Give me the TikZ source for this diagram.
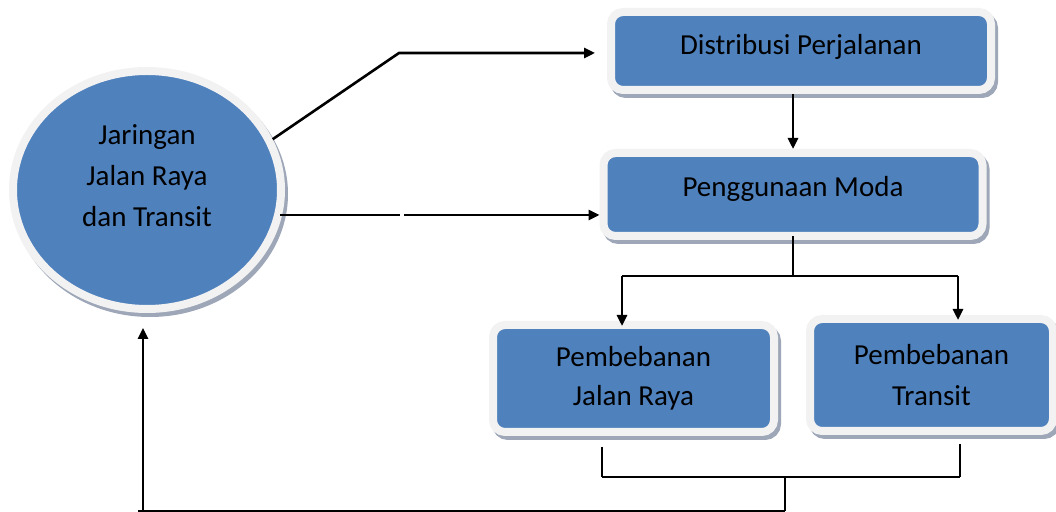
\documentclass[tikz,border=0pt]{standalone}
\usepackage{fontspec}
\setmainfont{Carlito}
\usetikzlibrary{shapes.geometric,arrows.meta,shadows}
\definecolor{boxblue}{HTML}{4F81BD}
\definecolor{ringc}{HTML}{F2F2F2}
\definecolor{shadc}{HTML}{9DA7B8}
\newcommand\dnr[1]{\rule[-#1]{0pt}{#1}}
\begin{document}
\begin{tikzpicture}[x=0.5pt,y=-0.5pt,
  shape base/.style={draw=ringc, fill=boxblue, line width=4pt, inner sep=0pt,
    align=center, font=\fontsize{14.5pt}{20.5pt}\selectfont,
    general shadow={fill=shadc, draw=shadc, line width=4pt, shadow xshift=1.5pt, shadow yshift=-2pt}},
  box/.style={shape base, rectangle, rounded corners=6pt},
  ell/.style={shape base, ellipse},
  conn/.style={line width=1.3pt, -{Triangle[length=5.5pt,width=5pt]}},
  thinline/.style={line width=0.8pt},
  plain/.style={line width=1pt}
]
\useasboundingbox (0,0) rectangle (1056,512);

\node[ell, minimum width=134pt, minimum height=119pt] (c) at (147,190)
  {Jaringan\\Jalan Raya\\dan Transit\dnr{14pt}};
\node[box, minimum width=190pt, minimum height=39pt] (d) at (801,51)
  {Distribusi Perjalanan\dnr{6.5pt}};
\node[box, minimum width=189.5pt, minimum height=41.5pt] (p) at (793,194.5)
  {Penggunaan Moda\dnr{8pt}};
\node[box, minimum width=140.5pt, minimum height=53.5pt, font=\fontsize{14.5pt}{19.5pt}\selectfont] (jr) at (633.5,378.5)
  {Pembebanan\\Jalan Raya};
\node[box, minimum width=121.5pt, minimum height=56pt] (t) at (931.5,375)
  {Pembebanan\\Transit};

% circle -> Distribusi Perjalanan
\coordinate (b1) at (399,53);
\draw[conn, shorten >=6pt] (c.22) -- (b1) -- (b1 -| d.west);

% circle -> Penggunaan Moda
\coordinate (g1) at (400,215);
\coordinate (g2) at (404,215);
\draw[thinline, shorten <=-2.5pt] (g1 -| c.east) -- (g1);
\draw[conn] (g2) -- (g2 -| p.west);

% Distribusi -> Penggunaan
\draw[conn] (d.south -| p.north) -- (p.north);

% Penggunaan -> split
\coordinate (s1) at (622,276);
\coordinate (s2) at (958,276);
\draw[plain, shorten <=-2pt] (p.south) -- (p.south |- s1);
\draw[plain] (s1) -- (s2);
\draw[conn, shorten >=-2.5pt] (s1) -- (s1 |- jr.north);
\draw[conn, shorten >=-2.5pt] (s2) -- (s2 |- t.north);

% join at bottom and feedback
\coordinate (h1) at (602,477);
\coordinate (h2) at (960,477);
\coordinate (h3) at (785,477);
\coordinate (h4) at (785,511);
\coordinate (h5) at (138,511);
\coordinate (u1) at (143,511);
\draw[plain, shorten <=5.5pt] (jr.south -| h1) -- (h1);
\draw[plain, shorten <=4.5pt] (t.south -| h2) -- (h2);
\draw[plain] (h1) -- (h2);
\draw[plain] (h3) -- (h4);
\draw[plain] (h4) -- (h5);
\draw[conn, shorten >=7.5pt] (u1) -- (u1 |- c.south);
\end{tikzpicture}
\end{document}
